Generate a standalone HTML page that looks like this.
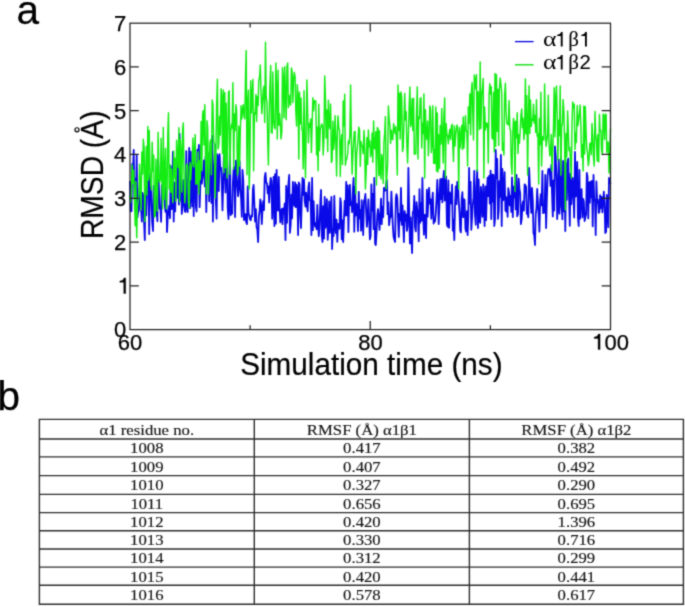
<!DOCTYPE html>
<html><head><meta charset="utf-8"><style>
html,body{margin:0;padding:0;background:#fff;width:685px;height:607px;overflow:hidden}
svg{display:block}
</style></head><body>
<svg width="685" height="607" viewBox="0 0 685 607">
<defs><filter id="f" color-interpolation-filters="sRGB" x="0" y="0" width="685" height="607" filterUnits="userSpaceOnUse"><feConvolveMatrix order="3" kernelMatrix="0.0277 0.1110 0.0277 0.1110 0.4452 0.1110 0.0277 0.1110 0.0277" divisor="1" edgeMode="duplicate"/></filter></defs>
<g filter="url(#f)"><rect width="685" height="607" fill="#fff"/>
<polyline points="130.0,181.1 130.7,211.3 131.5,211.2 132.2,164.1 133.0,170.7 133.7,150.0 134.4,197.8 135.2,178.7 135.9,205.5 136.7,155.0 137.4,217.7 138.1,212.0 138.9,210.3 139.6,187.5 140.4,182.1 141.1,209.0 141.8,221.5 142.6,193.0 143.3,196.4 144.1,222.5 144.8,240.0 145.5,177.5 146.3,215.4 147.0,186.1 147.8,174.3 148.5,182.7 149.2,234.0 150.0,176.8 150.7,173.8 151.5,203.3 152.2,222.3 153.0,231.0 153.7,185.8 154.4,209.1 155.2,215.3 155.9,195.3 156.7,212.0 157.4,221.3 158.1,160.0 158.9,186.3 159.6,208.5 160.4,206.7 161.1,221.8 161.8,185.0 162.6,190.5 163.3,187.6 164.1,183.6 164.8,205.2 165.5,211.8 166.3,187.2 167.0,232.0 167.8,216.1 168.5,211.5 169.2,206.0 170.0,218.1 170.7,166.2 171.5,209.2 172.2,208.4 172.9,151.9 173.7,221.5 174.4,182.8 175.2,211.4 175.9,175.9 176.6,187.7 177.4,197.8 178.1,162.2 178.9,204.6 179.6,134.0 180.3,200.9 181.1,171.1 181.8,213.9 182.6,203.3 183.3,180.1 184.0,203.5 184.8,211.4 185.5,211.9 186.3,151.1 187.0,207.5 187.7,212.0 188.5,178.8 189.2,148.0 190.0,208.2 190.7,151.7 191.5,193.1 192.2,206.4 192.9,149.0 193.7,216.0 194.4,150.3 195.2,181.2 195.9,206.8 196.6,211.6 197.4,149.6 198.1,162.8 198.9,145.0 199.6,207.2 200.3,186.3 201.1,159.5 201.8,183.7 202.6,176.6 203.3,172.4 204.0,160.3 204.8,186.4 205.5,157.0 206.3,212.0 207.0,171.4 207.7,152.8 208.5,164.7 209.2,201.2 210.0,170.5 210.7,149.3 211.4,202.9 212.2,136.0 212.9,221.5 213.7,174.1 214.4,162.5 215.1,144.6 215.9,203.2 216.6,218.7 217.4,154.5 218.1,158.8 218.8,191.0 219.6,154.2 220.3,169.6 221.1,167.8 221.8,184.1 222.5,210.3 223.3,180.6 224.0,149.0 224.8,167.5 225.5,192.5 226.2,149.2 227.0,150.1 227.7,207.9 228.5,219.0 229.2,201.3 229.9,149.0 230.7,215.1 231.4,208.3 232.2,213.7 232.9,182.8 233.7,167.3 234.4,167.2 235.1,217.0 235.9,160.6 236.6,174.7 237.4,187.0 238.1,196.3 238.8,182.6 239.6,161.1 240.3,190.6 241.1,198.3 241.8,216.8 242.5,170.0 243.3,181.0 244.0,220.0 244.8,219.5 245.5,214.1 246.2,222.1 247.0,224.1 247.7,186.4 248.5,212.6 249.2,215.6 249.9,219.1 250.7,220.3 251.4,215.3 252.2,216.4 252.9,189.4 253.6,185.0 254.4,204.4 255.1,221.5 255.9,209.1 256.6,227.2 257.3,229.2 258.1,242.0 258.8,216.7 259.6,210.9 260.3,199.3 261.0,202.9 261.8,224.0 262.5,209.8 263.3,201.2 264.0,210.1 264.7,177.1 265.5,173.0 266.2,182.7 267.0,183.2 267.7,193.3 268.4,186.4 269.2,202.5 269.9,186.2 270.7,177.8 271.4,181.1 272.2,218.7 272.9,197.8 273.6,176.9 274.4,226.0 275.1,174.1 275.9,223.7 276.6,170.0 277.3,208.5 278.1,210.6 278.8,177.0 279.6,207.4 280.3,222.4 281.0,212.4 281.8,208.9 282.5,224.2 283.3,208.3 284.0,212.8 284.7,203.5 285.5,240.0 286.2,186.0 287.0,222.8 287.7,195.2 288.4,184.2 289.2,175.0 289.9,232.8 290.7,224.4 291.4,194.7 292.1,218.4 292.9,182.0 293.6,202.0 294.4,205.9 295.1,182.4 295.8,207.1 296.6,184.6 297.3,189.9 298.1,235.0 298.8,182.3 299.5,184.6 300.3,215.8 301.0,228.0 301.8,199.8 302.5,178.0 303.2,194.9 304.0,179.4 304.7,201.2 305.5,206.6 306.2,192.6 306.9,205.9 307.7,211.4 308.4,187.7 309.2,182.5 309.9,200.3 310.7,201.4 311.4,235.0 312.1,178.0 312.9,230.2 313.6,201.1 314.4,221.5 315.1,226.6 315.8,223.2 316.6,229.3 317.3,204.9 318.1,225.7 318.8,236.1 319.5,228.1 320.3,203.0 321.0,190.0 321.8,235.3 322.5,242.0 323.2,206.1 324.0,238.5 324.7,196.8 325.5,227.8 326.2,218.7 326.9,199.2 327.7,239.8 328.4,227.1 329.2,201.3 329.9,232.8 330.6,214.7 331.4,197.0 332.1,249.0 332.9,229.0 333.6,236.1 334.3,196.0 335.1,226.7 335.8,233.0 336.6,219.7 337.3,241.8 338.0,223.8 338.8,225.4 339.5,228.8 340.3,198.2 341.0,202.9 341.7,239.3 342.5,220.5 343.2,242.0 344.0,218.4 344.7,200.9 345.4,215.5 346.2,182.0 346.9,215.3 347.7,185.3 348.4,232.1 349.1,199.6 349.9,184.8 350.6,205.1 351.4,202.2 352.1,212.2 352.9,188.6 353.6,178.0 354.3,231.7 355.1,187.0 355.8,215.5 356.6,203.9 357.3,213.2 358.0,231.0 358.8,191.8 359.5,218.3 360.3,210.2 361.0,230.7 361.7,200.2 362.5,214.3 363.2,235.0 364.0,200.8 364.7,199.3 365.4,194.0 366.2,212.0 366.9,226.8 367.7,215.3 368.4,199.4 369.1,217.4 369.9,239.4 370.6,236.0 371.4,184.3 372.1,210.7 372.8,193.8 373.6,229.2 374.3,178.0 375.1,243.5 375.8,245.0 376.5,233.6 377.3,215.4 378.0,209.1 378.8,216.3 379.5,229.9 380.2,217.5 381.0,198.6 381.7,224.1 382.5,206.8 383.2,217.0 383.9,187.9 384.7,190.9 385.4,190.3 386.2,182.3 386.9,180.0 387.6,214.2 388.4,202.4 389.1,225.1 389.9,216.8 390.6,217.2 391.4,191.6 392.1,209.0 392.8,224.9 393.6,237.1 394.3,239.4 395.1,242.0 395.8,198.0 396.5,194.1 397.3,198.0 398.0,217.9 398.8,236.9 399.5,213.9 400.2,220.7 401.0,187.9 401.7,224.8 402.5,205.4 403.2,222.0 403.9,242.0 404.7,211.1 405.4,220.7 406.2,214.4 406.9,230.9 407.6,226.1 408.4,168.0 409.1,206.6 409.9,243.4 410.6,217.3 411.3,236.8 412.1,253.0 412.8,212.3 413.6,210.5 414.3,196.0 415.0,227.1 415.8,231.4 416.5,202.2 417.3,210.1 418.0,216.8 418.7,241.3 419.5,189.2 420.2,222.7 421.0,203.2 421.7,220.5 422.4,178.0 423.2,217.1 423.9,234.6 424.7,214.7 425.4,215.7 426.1,238.0 426.9,189.7 427.6,216.7 428.4,200.6 429.1,187.9 429.8,203.5 430.6,199.4 431.3,218.6 432.1,202.5 432.8,192.7 433.6,223.6 434.3,221.1 435.0,221.6 435.8,213.0 436.5,199.4 437.3,180.0 438.0,195.9 438.7,224.0 439.5,202.4 440.2,179.2 441.0,199.2 441.7,178.9 442.4,202.3 443.2,180.1 443.9,171.0 444.7,200.6 445.4,197.7 446.1,176.7 446.9,224.0 447.6,226.7 448.4,180.5 449.1,227.8 449.8,192.4 450.6,196.8 451.3,203.7 452.1,184.7 452.8,230.7 453.5,219.7 454.3,240.0 455.0,206.4 455.8,186.4 456.5,204.1 457.2,182.0 458.0,182.4 458.7,200.9 459.5,212.6 460.2,230.5 460.9,232.3 461.7,198.6 462.4,192.1 463.2,217.2 463.9,199.2 464.6,199.9 465.4,228.6 466.1,231.5 466.9,211.2 467.6,235.0 468.3,216.8 469.1,168.0 469.8,203.5 470.6,181.8 471.3,229.8 472.1,217.4 472.8,205.1 473.5,197.9 474.3,170.9 475.0,215.3 475.8,224.8 476.5,187.0 477.2,170.0 478.0,228.0 478.7,179.5 479.5,219.6 480.2,222.9 480.9,187.0 481.7,201.2 482.4,216.8 483.2,184.4 483.9,204.4 484.6,226.0 485.4,186.4 486.1,220.1 486.9,192.2 487.6,177.7 488.3,196.1 489.1,175.8 489.8,203.6 490.6,170.6 491.3,219.1 492.0,174.4 492.8,201.5 493.5,175.0 494.3,226.0 495.0,219.3 495.7,150.0 496.5,178.2 497.2,158.9 498.0,218.9 498.7,210.1 499.4,181.2 500.2,196.9 500.9,155.0 501.7,226.0 502.4,169.0 503.1,200.3 503.9,198.9 504.6,172.2 505.4,210.4 506.1,211.6 506.8,197.2 507.6,216.8 508.3,188.2 509.1,192.8 509.8,205.4 510.6,195.8 511.3,211.9 512.0,177.4 512.8,217.0 513.5,186.6 514.3,197.3 515.0,182.1 515.7,209.4 516.5,175.0 517.2,216.3 518.0,214.0 518.7,178.7 519.4,188.4 520.2,193.6 520.9,224.0 521.7,219.1 522.4,204.9 523.1,201.3 523.9,210.7 524.6,184.3 525.4,185.4 526.1,186.7 526.8,213.8 527.6,211.8 528.3,217.3 529.1,168.0 529.8,184.8 530.5,197.8 531.3,212.8 532.0,188.0 532.8,200.9 533.5,233.1 534.2,235.0 535.0,245.0 535.7,214.4 536.5,208.2 537.2,189.0 537.9,202.9 538.7,216.4 539.4,231.6 540.2,200.1 540.9,194.2 541.6,205.3 542.4,171.0 543.1,213.2 543.9,205.7 544.6,212.7 545.3,174.8 546.1,228.0 546.8,200.8 547.6,176.1 548.3,169.4 549.0,168.8 549.8,170.9 550.5,185.9 551.3,165.1 552.0,192.5 552.8,216.4 553.5,180.4 554.2,210.5 555.0,146.5 555.7,155.7 556.5,176.1 557.2,219.0 557.9,202.3 558.7,159.3 559.4,213.6 560.2,199.4 560.9,156.8 561.6,205.3 562.4,219.3 563.1,161.0 563.9,211.3 564.6,163.0 565.3,231.0 566.1,163.3 566.8,199.8 567.6,161.5 568.3,158.6 569.0,196.3 569.8,225.8 570.5,173.6 571.3,204.3 572.0,188.0 572.7,178.0 573.5,198.0 574.2,217.5 575.0,152.0 575.7,196.7 576.4,192.8 577.2,161.8 577.9,217.2 578.7,226.0 579.4,169.9 580.1,218.7 580.9,192.6 581.6,189.2 582.4,217.3 583.1,198.8 583.8,201.6 584.6,221.0 585.3,217.5 586.1,214.3 586.8,173.0 587.5,176.7 588.3,218.4 589.0,182.5 589.8,202.6 590.5,181.6 591.3,197.4 592.0,180.9 592.7,226.3 593.5,175.0 594.2,200.4 595.0,199.7 595.7,235.0 596.4,181.5 597.2,202.6 597.9,199.6 598.7,212.9 599.4,212.0 600.1,195.1 600.9,208.0 601.6,196.8 602.4,212.4 603.1,201.9 603.8,191.7 604.6,203.4 605.3,233.0 606.1,231.5 606.8,194.8 607.5,209.7 608.3,227.2 609.0,178.0 609.8,180.7 610.5,183.9" fill="none" stroke="#0a0ae8" stroke-width="1.8" stroke-linejoin="round"/>
<polyline points="130.0,195.0 130.7,202.5 131.5,188.1 132.2,165.0 133.0,183.6 133.7,170.2 134.4,196.5 135.2,225.8 135.9,181.5 136.7,237.7 137.4,206.0 138.1,201.9 138.9,194.4 139.6,164.3 140.4,189.3 141.1,210.1 141.8,151.9 142.6,174.1 143.3,139.2 144.1,147.9 144.8,221.5 145.5,178.4 146.3,146.6 147.0,194.9 147.8,126.5 148.5,180.1 149.2,130.5 150.0,168.9 150.7,184.7 151.5,190.0 152.2,142.3 153.0,171.1 153.7,155.2 154.4,217.0 155.2,216.0 155.9,159.1 156.7,182.6 157.4,210.9 158.1,132.3 158.9,176.3 159.6,182.2 160.4,179.5 161.1,138.2 161.8,177.4 162.6,208.8 163.3,127.4 164.1,199.5 164.8,173.8 165.5,148.5 166.3,208.7 167.0,194.8 167.8,133.6 168.5,112.7 169.2,188.9 170.0,164.8 170.7,192.3 171.5,169.0 172.2,191.9 172.9,202.6 173.7,151.1 174.4,178.0 175.2,158.2 175.9,201.0 176.6,140.2 177.4,156.1 178.1,167.5 178.9,127.7 179.6,202.0 180.3,139.5 181.1,152.4 181.8,191.9 182.6,129.8 183.3,123.0 184.0,172.6 184.8,202.8 185.5,192.8 186.3,165.8 187.0,163.9 187.7,166.3 188.5,203.3 189.2,208.0 190.0,162.5 190.7,179.7 191.5,166.0 192.2,163.2 192.9,138.1 193.7,166.9 194.4,153.9 195.2,134.6 195.9,184.3 196.6,163.5 197.4,184.0 198.1,151.9 198.9,194.3 199.6,160.8 200.3,179.6 201.1,121.6 201.8,170.5 202.6,114.5 203.3,110.6 204.0,144.9 204.8,104.6 205.5,160.5 206.3,194.0 207.0,120.8 207.7,127.6 208.5,194.0 209.2,168.9 210.0,141.9 210.7,139.8 211.4,174.7 212.2,100.0 212.9,104.4 213.7,141.0 214.4,144.7 215.1,198.0 215.9,152.6 216.6,106.8 217.4,79.2 218.1,148.8 218.8,144.2 219.6,116.2 220.3,135.0 221.1,88.8 221.8,96.9 222.5,153.5 223.3,89.9 224.0,172.4 224.8,92.4 225.5,167.7 226.2,103.2 227.0,178.0 227.7,141.2 228.5,92.4 229.2,90.8 229.9,174.2 230.7,132.2 231.4,124.3 232.2,128.1 232.9,82.7 233.7,169.1 234.4,113.9 235.1,130.7 235.9,104.8 236.6,110.3 237.4,175.0 238.1,170.2 238.8,126.1 239.6,165.9 240.3,131.7 241.1,105.8 241.8,118.9 242.5,110.0 243.3,104.6 244.0,116.3 244.8,118.8 245.5,77.6 246.2,50.4 247.0,174.8 247.7,102.9 248.5,90.1 249.2,189.0 249.9,161.9 250.7,80.8 251.4,113.0 252.2,93.0 252.9,79.4 253.6,170.8 254.4,113.0 255.1,113.9 255.9,94.4 256.6,121.5 257.3,96.7 258.1,105.5 258.8,80.3 259.6,76.6 260.3,65.0 261.0,91.3 261.8,113.6 262.5,103.2 263.3,89.7 264.0,86.3 264.7,122.5 265.5,42.3 266.2,96.9 267.0,102.8 267.7,138.5 268.4,165.0 269.2,114.8 269.9,85.4 270.7,65.5 271.4,132.6 272.2,133.1 272.9,72.0 273.6,120.3 274.4,127.5 275.1,128.8 275.9,63.0 276.6,89.6 277.3,139.0 278.1,70.2 278.8,125.2 279.6,113.8 280.3,123.7 281.0,139.0 281.8,131.6 282.5,67.8 283.3,79.0 284.0,117.7 284.7,66.7 285.5,94.5 286.2,119.7 287.0,66.2 287.7,63.0 288.4,107.5 289.2,102.6 289.9,95.3 290.7,105.1 291.4,68.0 292.1,71.5 292.9,102.6 293.6,78.7 294.4,72.5 295.1,77.0 295.8,110.7 296.6,126.0 297.3,84.7 298.1,96.0 298.8,159.0 299.5,92.2 300.3,123.8 301.0,97.9 301.8,129.8 302.5,130.2 303.2,168.7 304.0,90.8 304.7,146.0 305.5,177.7 306.2,124.4 306.9,80.0 307.7,114.1 308.4,142.7 309.2,123.4 309.9,127.4 310.7,119.0 311.4,152.4 312.1,125.4 312.9,97.7 313.6,110.8 314.4,100.8 315.1,100.9 315.8,101.0 316.6,154.9 317.3,127.1 318.1,170.8 318.8,104.3 319.5,150.6 320.3,129.1 321.0,126.4 321.8,123.9 322.5,125.9 323.2,155.0 324.0,138.0 324.7,76.0 325.5,99.7 326.2,137.9 326.9,109.9 327.7,151.6 328.4,100.3 329.2,125.0 329.9,128.7 330.6,104.1 331.4,162.5 332.1,160.6 332.9,121.2 333.6,149.4 334.3,141.3 335.1,115.8 335.8,139.2 336.6,176.0 337.3,135.8 338.0,116.0 338.8,128.1 339.5,130.3 340.3,176.5 341.0,142.5 341.7,134.7 342.5,164.6 343.2,101.0 344.0,125.9 344.7,94.2 345.4,165.2 346.2,159.5 346.9,158.7 347.7,153.3 348.4,140.9 349.1,143.9 349.9,134.1 350.6,85.0 351.4,142.1 352.1,174.1 352.9,153.8 353.6,141.6 354.3,131.7 355.1,131.4 355.8,194.0 356.6,155.5 357.3,147.4 358.0,139.8 358.8,127.1 359.5,130.0 360.3,166.2 361.0,141.5 361.7,145.5 362.5,146.3 363.2,153.6 364.0,130.5 364.7,148.0 365.4,189.0 366.2,170.7 366.9,137.6 367.7,164.5 368.4,130.0 369.1,146.7 369.9,141.0 370.6,156.8 371.4,153.0 372.1,133.1 372.8,162.2 373.6,121.0 374.3,147.8 375.1,148.9 375.8,131.7 376.5,185.0 377.3,127.6 378.0,128.6 378.8,175.8 379.5,130.7 380.2,172.5 381.0,178.9 381.7,154.4 382.5,160.5 383.2,183.6 383.9,142.7 384.7,133.0 385.4,116.6 386.2,189.0 386.9,175.3 387.6,164.2 388.4,106.0 389.1,118.8 389.9,125.8 390.6,143.4 391.4,130.2 392.1,138.9 392.8,139.6 393.6,123.8 394.3,128.8 395.1,133.5 395.8,126.6 396.5,141.1 397.3,175.0 398.0,85.0 398.8,130.5 399.5,93.2 400.2,139.1 401.0,92.0 401.7,97.1 402.5,151.6 403.2,148.0 403.9,125.9 404.7,93.5 405.4,120.1 406.2,111.7 406.9,146.1 407.6,162.9 408.4,134.6 409.1,107.9 409.9,87.0 410.6,126.5 411.3,123.1 412.1,98.7 412.8,130.4 413.6,98.2 414.3,154.2 415.0,153.7 415.8,153.9 416.5,114.2 417.3,87.0 418.0,159.0 418.7,117.2 419.5,118.7 420.2,98.7 421.0,97.7 421.7,147.9 422.4,123.2 423.2,133.5 423.9,94.0 424.7,178.0 425.4,109.7 426.1,133.6 426.9,139.4 427.6,121.1 428.4,155.8 429.1,136.5 429.8,106.0 430.6,109.7 431.3,152.6 432.1,144.8 432.8,105.7 433.6,163.3 434.3,149.6 435.0,163.6 435.8,107.0 436.5,171.0 437.3,112.9 438.0,172.0 438.7,134.7 439.5,168.3 440.2,125.6 441.0,144.1 441.7,108.7 442.4,133.7 443.2,162.9 443.9,116.8 444.7,98.0 445.4,178.0 446.1,123.5 446.9,134.6 447.6,135.6 448.4,143.7 449.1,134.6 449.8,129.4 450.6,139.4 451.3,126.5 452.1,124.3 452.8,144.7 453.5,161.5 454.3,125.7 455.0,146.0 455.8,133.8 456.5,127.2 457.2,125.0 458.0,133.8 458.7,189.0 459.5,127.5 460.2,147.8 460.9,135.9 461.7,125.5 462.4,149.4 463.2,117.0 463.9,148.3 464.6,135.5 465.4,115.8 466.1,130.7 466.9,131.6 467.6,166.0 468.3,107.0 469.1,123.3 469.8,93.9 470.6,134.8 471.3,93.2 472.1,82.6 472.8,111.9 473.5,140.0 474.3,75.0 475.0,79.1 475.8,88.9 476.5,74.6 477.2,171.0 478.0,91.5 478.7,95.1 479.5,129.6 480.2,62.0 480.9,128.3 481.7,94.4 482.4,89.7 483.2,78.5 483.9,178.0 484.6,107.0 485.4,130.1 486.1,122.8 486.9,126.9 487.6,123.5 488.3,163.0 489.1,95.0 489.8,83.7 490.6,94.1 491.3,86.8 492.0,137.7 492.8,139.1 493.5,92.3 494.3,152.0 495.0,73.5 495.7,146.3 496.5,74.6 497.2,131.2 498.0,89.3 498.7,145.4 499.4,89.6 500.2,78.0 500.9,84.1 501.7,92.1 502.4,150.2 503.1,143.3 503.9,155.0 504.6,95.9 505.4,83.2 506.1,112.0 506.8,123.7 507.6,123.7 508.3,124.9 509.1,100.6 509.8,128.6 510.6,130.8 511.3,164.5 512.0,174.3 512.8,132.7 513.5,118.4 514.3,123.0 515.0,191.5 515.7,121.5 516.5,137.8 517.2,112.8 518.0,153.5 518.7,134.7 519.4,143.3 520.2,131.2 520.9,115.9 521.7,109.0 522.4,127.7 523.1,118.3 523.9,139.6 524.6,132.2 525.4,79.0 526.1,133.7 526.8,95.6 527.6,175.0 528.3,123.1 529.1,85.7 529.8,133.6 530.5,100.0 531.3,126.4 532.0,119.1 532.8,120.4 533.5,104.3 534.2,123.0 535.0,115.5 535.7,132.4 536.5,99.8 537.2,136.2 537.9,133.8 538.7,184.0 539.4,118.5 540.2,144.5 540.9,92.3 541.6,166.0 542.4,136.4 543.1,137.4 543.9,140.1 544.6,84.0 545.3,123.2 546.1,146.3 546.8,140.7 547.6,134.8 548.3,95.2 549.0,142.6 549.8,155.9 550.5,153.2 551.3,134.6 552.0,171.0 552.8,150.4 553.5,125.4 554.2,87.7 555.0,136.8 555.7,97.1 556.5,86.0 557.2,114.3 557.9,160.2 558.7,120.3 559.4,135.6 560.2,86.0 560.9,175.2 561.6,126.9 562.4,123.5 563.1,99.6 563.9,111.9 564.6,141.0 565.3,210.0 566.1,133.4 566.8,156.8 567.6,111.0 568.3,130.0 569.0,150.8 569.8,147.3 570.5,160.8 571.3,178.0 572.0,125.2 572.7,102.0 573.5,108.1 574.2,104.1 575.0,149.4 575.7,133.2 576.4,142.5 577.2,105.5 577.9,125.6 578.7,119.8 579.4,113.3 580.1,105.0 580.9,126.8 581.6,157.4 582.4,144.6 583.1,171.0 583.8,106.0 584.6,153.9 585.3,106.5 586.1,132.6 586.8,148.8 587.5,152.2 588.3,165.6 589.0,161.0 589.8,143.4 590.5,143.2 591.3,154.7 592.0,123.5 592.7,135.3 593.5,157.5 594.2,166.0 595.0,111.5 595.7,135.2 596.4,140.5 597.2,161.1 597.9,134.8 598.7,161.9 599.4,114.5 600.1,130.8 600.9,130.4 601.6,150.1 602.4,154.6 603.1,114.0 603.8,115.8 604.6,139.5 605.3,114.0 606.1,114.5 606.8,152.6 607.5,142.3 608.3,142.2 609.0,173.0 609.8,152.4 610.5,128.5" fill="none" stroke="#14ec14" stroke-width="1.45" stroke-linejoin="round"/>
<rect x="130.0" y="23.2" width="480.5" height="306.4" fill="none" stroke="#222" stroke-width="1.25"/>
<path d="M130.0,285.79h8.8M610.5,285.79h-8.8M130.0,242.02h8.8M610.5,242.02h-8.8M130.0,198.26h8.8M610.5,198.26h-8.8M130.0,154.49h8.8M610.5,154.49h-8.8M130.0,110.73h8.8M610.5,110.73h-8.8M130.0,66.96h8.8M610.5,66.96h-8.8M250.12,329.55v-4.3M250.12,23.2v4.3M370.25,329.55v-8.5M370.25,23.2v8.5M490.38,329.55v-4.3M490.38,23.2v4.3" stroke="#222" stroke-width="1.25" fill="none"/>
<text x="126.3" y="337.3" font-family="'Liberation Sans', sans-serif" font-size="22" text-anchor="end" stroke="#000" stroke-width="0.25">0</text>
<path d="M356 0L266 0L266 510L89 510L89 573C185 573 255 612 278 709L356 709Z" transform="translate(117.87,293.54) scale(0.02200,-0.02200)" fill="#000" stroke="#000" stroke-width="15.9"/>
<text x="126.3" y="249.8" font-family="'Liberation Sans', sans-serif" font-size="22" text-anchor="end" stroke="#000" stroke-width="0.25">2</text>
<text x="126.3" y="206.0" font-family="'Liberation Sans', sans-serif" font-size="22" text-anchor="end" stroke="#000" stroke-width="0.25">3</text>
<text x="126.3" y="162.2" font-family="'Liberation Sans', sans-serif" font-size="22" text-anchor="end" stroke="#000" stroke-width="0.25">4</text>
<text x="126.3" y="118.5" font-family="'Liberation Sans', sans-serif" font-size="22" text-anchor="end" stroke="#000" stroke-width="0.25">5</text>
<text x="126.3" y="74.7" font-family="'Liberation Sans', sans-serif" font-size="22" text-anchor="end" stroke="#000" stroke-width="0.25">6</text>
<text x="126.3" y="30.9" font-family="'Liberation Sans', sans-serif" font-size="22" text-anchor="end" stroke="#000" stroke-width="0.25">7</text>
<text x="130.1" y="349.6" font-family="'Liberation Sans', sans-serif" font-size="22" text-anchor="middle" stroke="#000" stroke-width="0.25">60</text>
<text x="370.4" y="349.6" font-family="'Liberation Sans', sans-serif" font-size="22" text-anchor="middle" stroke="#000" stroke-width="0.25">80</text>
<path d="M356 0L266 0L266 510L89 510L89 573C185 573 255 612 278 709L356 709Z" transform="translate(592.25,349.60) scale(0.02200,-0.02200)" fill="#000" stroke="#000" stroke-width="15.9"/>
<text x="604.48" y="349.6" font-family="'Liberation Sans', sans-serif" font-size="22" stroke="#000" stroke-width="0.25">00</text>
<text transform="translate(240.2,375.2) scale(1,1.025)" font-family="'Liberation Sans', sans-serif" font-size="29.7" stroke="#000" stroke-width="0.2">Simulation time (ns)</text>
<text transform="translate(102.9,239) rotate(-90) scale(0.95,1.03)" x="0" y="0" font-family="'Liberation Sans', sans-serif" font-size="29.7" stroke="#000" stroke-width="0.2">RMSD (A)</text>
<circle cx="77.0" cy="129.8" r="2.05" fill="none" stroke="#000" stroke-width="1.2"/>
<path d="M515,41.6h18.6" stroke="#0000e0" stroke-width="1.3"/>
<path d="M515,64.8h18.6" stroke="#00dd00" stroke-width="1.3"/>
<text transform="translate(542.9,46.4) scale(1.17,1)" font-family="'Liberation Serif', serif" font-size="22">α</text>
<text x="568.3" y="46.4" font-family="'Liberation Serif', serif" font-size="21" stroke="#000" stroke-width="0.1">β</text>
<path d="M356 0L266 0L266 510L89 510L89 573C185 573 255 612 278 709L356 709Z" transform="translate(555.40,46.40) scale(0.02030,-0.02030)" fill="#000" stroke="#000" stroke-width="2.5"/>
<path d="M356 0L266 0L266 510L89 510L89 573C185 573 255 612 278 709L356 709Z" transform="translate(579.60,46.40) scale(0.02030,-0.02030)" fill="#000" stroke="#000" stroke-width="2.5"/>
<text transform="translate(542.9,69.4) scale(1.17,1)" font-family="'Liberation Serif', serif" font-size="22">α</text>
<text x="568.3" y="69.4" font-family="'Liberation Serif', serif" font-size="21" stroke="#000" stroke-width="0.1">β</text>
<path d="M356 0L266 0L266 510L89 510L89 573C185 573 255 612 278 709L356 709Z" transform="translate(555.40,69.40) scale(0.02030,-0.02030)" fill="#000" stroke="#000" stroke-width="2.5"/>
<text x="579.4" y="69.4" font-family="'Liberation Sans', sans-serif" font-size="20.3" stroke="#000" stroke-width="0.1">2</text>
<text x="16.6" y="24.2" font-family="'Liberation Sans', sans-serif" font-size="40.5" stroke="#000" stroke-width="0.25">a</text>
<text x="-2.5" y="410.0" font-family="'Liberation Sans', sans-serif" font-size="40.5" stroke="#000" stroke-width="0.25">b</text>
<path d="M38.699999999999996,419.4H684.1M38.699999999999996,439.0H684.1M38.699999999999996,456.9H684.1M38.699999999999996,475.6H684.1M38.699999999999996,494.4H684.1M38.699999999999996,512.6H684.1M38.699999999999996,530.8H684.1M38.699999999999996,549.0H684.1M38.699999999999996,567.1H684.1M38.699999999999996,585.3H684.1M38.699999999999996,604.3H684.1M39.4,419.4V604.3M254.3,419.4V604.3M469.4,419.4V604.3M683.4,419.4V604.3" stroke="#2e2e2e" stroke-width="1.4" fill="none"/>
<text transform="translate(146.8,434.6) scale(1.10,1)" text-anchor="middle" font-family="'Liberation Serif', serif" font-size="15.2" fill="#151515" stroke="#151515" stroke-width="0.15">α1 residue no.</text>
<text transform="translate(361.9,434.6) scale(1.10,1)" text-anchor="middle" font-family="'Liberation Serif', serif" font-size="15.2" fill="#151515" stroke="#151515" stroke-width="0.15">RMSF (Å) α1β1</text>
<text transform="translate(576.4,434.6) scale(1.10,1)" text-anchor="middle" font-family="'Liberation Serif', serif" font-size="15.2" fill="#151515" stroke="#151515" stroke-width="0.15">RMSF (Å) α1β2</text>
<text transform="translate(146.8,453.3) scale(1.10,1)" text-anchor="middle" font-family="'Liberation Serif', serif" font-size="15.2" fill="#151515" stroke="#151515" stroke-width="0.15">1008</text>
<text transform="translate(361.9,453.3) scale(1.10,1)" text-anchor="middle" font-family="'Liberation Serif', serif" font-size="15.2" fill="#151515" stroke="#151515" stroke-width="0.15">0.417</text>
<text transform="translate(576.4,453.3) scale(1.10,1)" text-anchor="middle" font-family="'Liberation Serif', serif" font-size="15.2" fill="#151515" stroke="#151515" stroke-width="0.15">0.382</text>
<text transform="translate(146.8,471.6) scale(1.10,1)" text-anchor="middle" font-family="'Liberation Serif', serif" font-size="15.2" fill="#151515" stroke="#151515" stroke-width="0.15">1009</text>
<text transform="translate(361.9,471.6) scale(1.10,1)" text-anchor="middle" font-family="'Liberation Serif', serif" font-size="15.2" fill="#151515" stroke="#151515" stroke-width="0.15">0.407</text>
<text transform="translate(576.4,471.6) scale(1.10,1)" text-anchor="middle" font-family="'Liberation Serif', serif" font-size="15.2" fill="#151515" stroke="#151515" stroke-width="0.15">0.492</text>
<text transform="translate(146.8,490.4) scale(1.10,1)" text-anchor="middle" font-family="'Liberation Serif', serif" font-size="15.2" fill="#151515" stroke="#151515" stroke-width="0.15">1010</text>
<text transform="translate(361.9,490.4) scale(1.10,1)" text-anchor="middle" font-family="'Liberation Serif', serif" font-size="15.2" fill="#151515" stroke="#151515" stroke-width="0.15">0.327</text>
<text transform="translate(576.4,490.4) scale(1.10,1)" text-anchor="middle" font-family="'Liberation Serif', serif" font-size="15.2" fill="#151515" stroke="#151515" stroke-width="0.15">0.290</text>
<text transform="translate(146.8,508.9) scale(1.10,1)" text-anchor="middle" font-family="'Liberation Serif', serif" font-size="15.2" fill="#151515" stroke="#151515" stroke-width="0.15">1011</text>
<text transform="translate(361.9,508.9) scale(1.10,1)" text-anchor="middle" font-family="'Liberation Serif', serif" font-size="15.2" fill="#151515" stroke="#151515" stroke-width="0.15">0.656</text>
<text transform="translate(576.4,508.9) scale(1.10,1)" text-anchor="middle" font-family="'Liberation Serif', serif" font-size="15.2" fill="#151515" stroke="#151515" stroke-width="0.15">0.695</text>
<text transform="translate(146.8,527.1) scale(1.10,1)" text-anchor="middle" font-family="'Liberation Serif', serif" font-size="15.2" fill="#151515" stroke="#151515" stroke-width="0.15">1012</text>
<text transform="translate(361.9,527.1) scale(1.10,1)" text-anchor="middle" font-family="'Liberation Serif', serif" font-size="15.2" fill="#151515" stroke="#151515" stroke-width="0.15">0.420</text>
<text transform="translate(576.4,527.1) scale(1.10,1)" text-anchor="middle" font-family="'Liberation Serif', serif" font-size="15.2" fill="#151515" stroke="#151515" stroke-width="0.15">1.396</text>
<text transform="translate(146.8,545.3) scale(1.10,1)" text-anchor="middle" font-family="'Liberation Serif', serif" font-size="15.2" fill="#151515" stroke="#151515" stroke-width="0.15">1013</text>
<text transform="translate(361.9,545.3) scale(1.10,1)" text-anchor="middle" font-family="'Liberation Serif', serif" font-size="15.2" fill="#151515" stroke="#151515" stroke-width="0.15">0.330</text>
<text transform="translate(576.4,545.3) scale(1.10,1)" text-anchor="middle" font-family="'Liberation Serif', serif" font-size="15.2" fill="#151515" stroke="#151515" stroke-width="0.15">0.716</text>
<text transform="translate(146.8,563.4) scale(1.10,1)" text-anchor="middle" font-family="'Liberation Serif', serif" font-size="15.2" fill="#151515" stroke="#151515" stroke-width="0.15">1014</text>
<text transform="translate(361.9,563.4) scale(1.10,1)" text-anchor="middle" font-family="'Liberation Serif', serif" font-size="15.2" fill="#151515" stroke="#151515" stroke-width="0.15">0.312</text>
<text transform="translate(576.4,563.4) scale(1.10,1)" text-anchor="middle" font-family="'Liberation Serif', serif" font-size="15.2" fill="#151515" stroke="#151515" stroke-width="0.15">0.299</text>
<text transform="translate(146.8,581.6) scale(1.10,1)" text-anchor="middle" font-family="'Liberation Serif', serif" font-size="15.2" fill="#151515" stroke="#151515" stroke-width="0.15">1015</text>
<text transform="translate(361.9,581.6) scale(1.10,1)" text-anchor="middle" font-family="'Liberation Serif', serif" font-size="15.2" fill="#151515" stroke="#151515" stroke-width="0.15">0.420</text>
<text transform="translate(576.4,581.6) scale(1.10,1)" text-anchor="middle" font-family="'Liberation Serif', serif" font-size="15.2" fill="#151515" stroke="#151515" stroke-width="0.15">0.441</text>
<text transform="translate(146.8,600.2) scale(1.10,1)" text-anchor="middle" font-family="'Liberation Serif', serif" font-size="15.2" fill="#151515" stroke="#151515" stroke-width="0.15">1016</text>
<text transform="translate(361.9,600.2) scale(1.10,1)" text-anchor="middle" font-family="'Liberation Serif', serif" font-size="15.2" fill="#151515" stroke="#151515" stroke-width="0.15">0.578</text>
<text transform="translate(576.4,600.2) scale(1.10,1)" text-anchor="middle" font-family="'Liberation Serif', serif" font-size="15.2" fill="#151515" stroke="#151515" stroke-width="0.15">0.617</text>
</g></svg>
</body></html>
